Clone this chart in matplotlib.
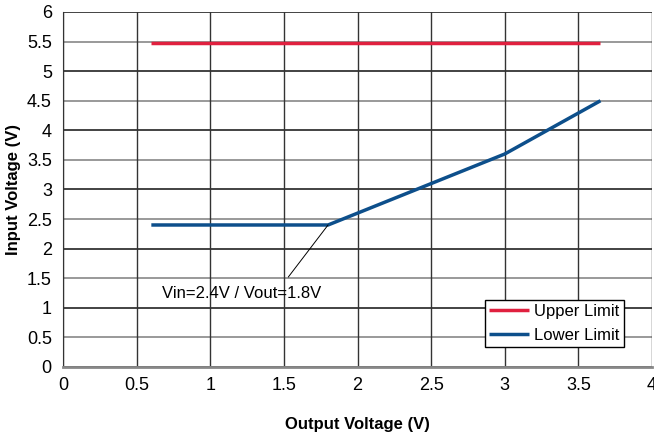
import matplotlib
matplotlib.use("Agg")
from matplotlib import pyplot as plt

upper_x = [0.6, 3.65]
upper_y = [5.48, 5.48]
lower_x = [0.6, 1.8, 3.0, 3.65]
lower_y = [2.4, 2.4, 3.6, 4.5]
x_ticks = [0, 0.5, 1, 1.5, 2, 2.5, 3, 3.5, 4]
y_ticks = [0, 0.5, 1, 1.5, 2, 2.5, 3, 3.5, 4, 4.5, 5, 5.5, 6]

plt.rcParams["font.family"] = ["Liberation Sans", "DejaVu Sans"]


def main():
    fig = plt.figure(figsize=(6.54, 4.34), dpi=100)
    ax = fig.add_axes([0.0963, 0.1544, 0.9007, 0.818])

    # grid: whole values dark, half values grey on y
    for y in y_ticks:
        c = "#222222" if float(y).is_integer() else "#888888"
        ax.axhline(y, color=c, lw=1.2, zorder=0)
    for x in x_ticks:
        ax.axvline(x, color="#333333", lw=1.0, zorder=0)

    ax.plot(upper_x, upper_y, color="#e0203f", lw=2.5, label="Upper Limit", solid_capstyle="butt")
    ax.plot(lower_x, lower_y, color="#0d4f8b", lw=2.5, label="Lower Limit", solid_capstyle="butt")

    # leader line + note for the knee point
    ax.annotate("", xy=(1.8, 2.4), xytext=(1.53, 1.52),
                arrowprops=dict(arrowstyle="-", color="black", lw=0.7, shrinkA=0, shrinkB=0))
    ax.text(0.67, 1.25, "Vin=2.4V / Vout=1.8V", fontsize=12, ha="left", va="center")

    ax.set_xlim(0, 4)
    ax.set_ylim(0, 6)
    ax.set_xticks(x_ticks)
    ax.set_xticklabels([f"{v:g}" for v in x_ticks])
    ax.set_yticks(y_ticks)
    ax.set_yticklabels([f"{v:g}" for v in y_ticks])
    ax.tick_params(length=0, labelsize=13, pad=8)
    ax.tick_params(axis="x", pad=7)
    for s in ax.spines.values():
        s.set_visible(False)
    ax.spines["left"].set_visible(True)
    ax.spines["bottom"].set_visible(True)
    ax.spines["left"].set_color("#333333")
    ax.spines["bottom"].set_color("#888888")
    ax.spines["bottom"].set_linewidth(2)

    ax.set_xlabel("Output Voltage (V)", fontsize=12, fontweight="bold", labelpad=17)
    ax.set_ylabel("Input Voltage (V)", fontsize=12, fontweight="bold", labelpad=4)

    leg = ax.legend(loc="lower right", bbox_to_anchor=(0.952, 0.055), fontsize=12,
                    frameon=True, fancybox=False, edgecolor="black", framealpha=1,
                    handlelength=2.4, handletextpad=0.3, borderpad=0.25, labelspacing=0.55,
                    borderaxespad=0)
    leg.get_frame().set_linewidth(1.0)

    plt.savefig("out.png", dpi=100)


if __name__ == "__main__":
    main()
